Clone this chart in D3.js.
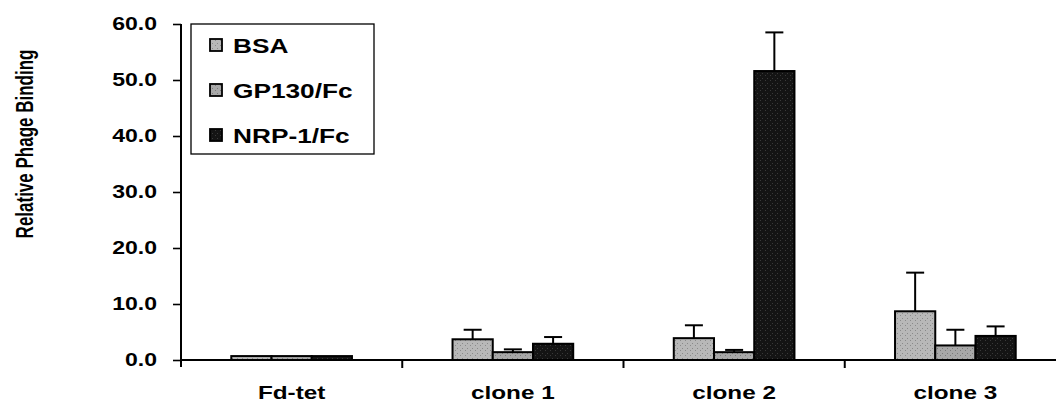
<!DOCTYPE html>
<html>
<head>
<meta charset="utf-8">
<script src="https://cdn.jsdelivr.net/npm/d3@7"></script>
<style>
  body { margin: 0; background: #fff; }
  svg { display: block; font-family: "Liberation Sans", Arial, sans-serif; font-weight: bold; }
</style>
</head>
<body>
<svg id="chart" width="1056" height="406"></svg>
<script>
// data
const categories = ["Fd-tet", "clone 1", "clone 2", "clone 3"];
const series = ["BSA", "GP130/Fc", "NRP-1/Fc"];
const bsa = [0.7, 3.7, 3.9, 8.7];
const gp130 = [0.7, 1.4, 1.4, 2.6];
const nrp1 = [0.7, 2.9, 51.6, 4.3];
const bsaErr = [0, 1.7, 2.3, 6.9];
const gp130Err = [0, 0.5, 0.4, 2.8];
const nrp1Err = [0, 1.2, 6.9, 1.7];
const yTicks = [0, 10, 20, 30, 40, 50, 60];

const colors = ["#b8b8b8", "#a8a8a8", "#141414"];
const dotColors = ["#8a8a8a", "#7a7a7a", "#3a3a3a"];
const stretch = 1.28; // the scanned text is wider than normal

const svg = d3.select("#chart");
const mLeft = 181, mRight = 1066, mTop = 24, mBottom = 360;

// stipple fills like the scan
const defs = svg.append("defs");
colors.forEach((c, i) => {
  const p = defs.append("pattern")
    .attr("id", "pat" + i)
    .attr("patternUnits", "userSpaceOnUse")
    .attr("width", 5).attr("height", 5);
  p.append("rect").attr("width", 5).attr("height", 5).attr("fill", c);
  p.append("rect").attr("x", 0).attr("y", 0).attr("width", 1).attr("height", 1).attr("fill", dotColors[i]);
  p.append("rect").attr("x", 2).attr("y", 3).attr("width", 1).attr("height", 1).attr("fill", dotColors[i]);
});

const values = [bsa, gp130, nrp1];
const errs = [bsaErr, gp130Err, nrp1Err];
const rows = [];
categories.forEach((c, i) => {
  series.forEach((s, j) => {
    rows.push({ cat: c, ser: s, v: values[j][i], e: errs[j][i], k: j });
  });
});

const x = d3.scaleBand().domain(categories).range([mLeft, mRight]).padding(0);
const x1 = d3.scaleBand().domain(series).range([0, x.bandwidth()])
  .paddingInner(0).paddingOuter(1.25);
const y = d3.scaleLinear().domain([0, 60]).range([mBottom, mTop]);

// bars
svg.append("g").selectAll("rect")
  .data(rows)
  .enter()
  .append("rect")
  .attr("x", d => x(d.cat) + x1(d.ser))
  .attr("y", d => y(d.v))
  .attr("width", x1.bandwidth())
  .attr("height", d => y(0) - y(d.v))
  .attr("fill", d => "url(#pat" + d.k + ")")
  .attr("stroke", "#000")
  .attr("stroke-width", 2);

// error bars (upper only)
const eb = svg.append("g").selectAll("g")
  .data(rows.filter(d => d.e > 0))
  .enter()
  .append("g")
  .attr("stroke", "#000")
  .attr("stroke-width", 2);
eb.append("line")
  .attr("x1", d => x(d.cat) + x1(d.ser) + x1.bandwidth() / 2)
  .attr("x2", d => x(d.cat) + x1(d.ser) + x1.bandwidth() / 2)
  .attr("y1", d => y(d.v))
  .attr("y2", d => y(d.v + d.e));
eb.append("line")
  .attr("x1", d => x(d.cat) + x1(d.ser) + x1.bandwidth() / 2 - 9)
  .attr("x2", d => x(d.cat) + x1(d.ser) + x1.bandwidth() / 2 + 9)
  .attr("y1", d => y(d.v + d.e))
  .attr("y2", d => y(d.v + d.e));

// y axis
const yAxis = svg.append("g")
  .attr("transform", "translate(" + mLeft + ",0)")
  .call(d3.axisLeft(y).tickValues(yTicks).tickFormat(d3.format(".1f")).tickSize(8).tickSizeOuter(0));
yAxis.select(".domain").attr("stroke-width", 2).attr("d", "M0," + mTop + "V" + (mBottom + 7));
yAxis.selectAll(".tick line").attr("stroke-width", 1.6);
yAxis.selectAll("text")
  .attr("x", 0)
  .attr("transform", "translate(-24,0) scale(" + stretch + ",1)")
  .style("font-size", "18px")
  .style("font-family", "Liberation Sans, Arial, sans-serif")
  .style("font-weight", "bold")
  .attr("fill", "#000");

// x axis line and category boundary ticks
svg.append("line")
  .attr("x1", mLeft).attr("x2", 1056)
  .attr("y1", y(0)).attr("y2", y(0))
  .attr("stroke", "#000").attr("stroke-width", 2);
svg.append("g").selectAll("line")
  .data(categories.slice(1))
  .enter()
  .append("line")
  .attr("x1", d => x(d)).attr("x2", d => x(d))
  .attr("y1", y(0)).attr("y2", y(0) + 8)
  .attr("stroke", "#000").attr("stroke-width", 2);

const xAxis = svg.append("g")
  .attr("transform", "translate(0," + mBottom + ")")
  .call(d3.axisBottom(x).tickSize(0).tickPadding(26));
xAxis.select(".domain").remove();
xAxis.selectAll("text")
  .attr("transform", "scale(" + stretch + ",1)")
  .style("font-size", "19px")
  .style("font-family", "Liberation Sans, Arial, sans-serif")
  .style("font-weight", "bold")
  .attr("fill", "#000");

// y title
svg.append("text")
  .attr("transform", "translate(33,144) rotate(-90) scale(1,1.45)")
  .attr("text-anchor", "middle")
  .style("font-size", "17px")
  .text("Relative Phage Binding");

// legend
const lg = svg.append("g");
lg.append("rect")
  .attr("x", 191).attr("y", 24)
  .attr("width", 183).attr("height", 130)
  .attr("fill", "#fff").attr("stroke", "#000").attr("stroke-width", 1.3);
const items = lg.selectAll("g.item")
  .data(series)
  .enter()
  .append("g")
  .attr("class", "item")
  .attr("transform", (d, i) => "translate(210," + (45 + i * 45) + ")");
items.append("rect")
  .attr("x", 0).attr("y", -6)
  .attr("width", 12).attr("height", 12)
  .attr("fill", (d, i) => "url(#pat" + i + ")")
  .attr("stroke", "#000").attr("stroke-width", 1.8);
items.append("text")
  .attr("transform", "translate(23,7.5) scale(1.25,1)")
  .style("font-size", "21px")
  .text(d => d);
</script>
</body>
</html>
